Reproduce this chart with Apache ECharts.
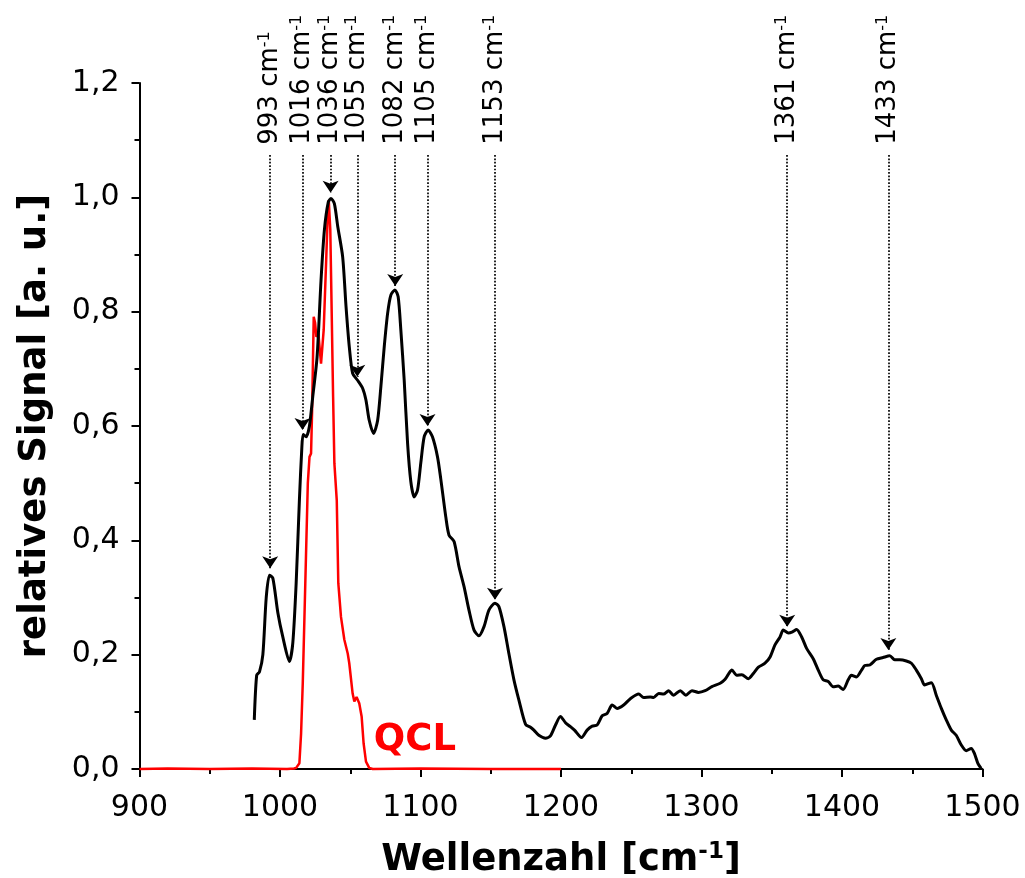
<!DOCTYPE html>
<html>
<head>
<meta charset="utf-8">
<script src="https://cdn.jsdelivr.net/npm/echarts@6/dist/echarts.min.js"></script>
<style>
  html, body { margin: 0; padding: 0; background: #fff; }
  #chart { width: 1025px; height: 878px; }
</style>
</head>
<body>
<div id="chart"></div>
<script>
// Sample spectrum (black): wavenumber [cm^-1] and relative signal
const sampleWn = [
  981.7, 983.4, 985.4, 987.8, 990.2, 992.5, 994.9, 998.5, 1002, 1006.7,
  1009.1, 1011.5, 1013.8, 1015.5, 1016.5, 1018.6, 1020.9, 1023.3, 1026.4, 1029.2,
  1031.6, 1034.4, 1036.3, 1038.7, 1041.1, 1044.6, 1047, 1049.3, 1051.7, 1055.2,
  1058.8, 1061.2, 1063.5, 1066.6, 1069.5, 1071.8, 1074.2, 1076.6, 1078.9, 1081.8,
  1084.1, 1086, 1088.4, 1090.8, 1093.1, 1095.5, 1097.9, 1100.2, 1102.6, 1105.4,
  1108.5, 1112.1, 1114.4, 1118, 1120.3, 1123.9, 1127.4, 1131, 1134.5, 1138.1,
  1141.6, 1145.2, 1148.7, 1153, 1155.8, 1159.4, 1162.9, 1166.5, 1170, 1174.8,
  1178.3, 1180.7, 1184.2, 1189, 1192.5, 1196.1, 1199.6, 1203.2, 1206.7, 1209.6,
  1214.6, 1218.6, 1222.2, 1225.7, 1229.3, 1232.8, 1236.4, 1239.9, 1244.6, 1249.4,
  1255.3, 1258.8, 1263.6, 1265.9, 1269.5, 1273, 1276.6, 1280.1, 1284.9, 1288.9,
  1293.2, 1297.8, 1302.6, 1307.4, 1313.3, 1316.8, 1319.2, 1321.6, 1325.1, 1328.7,
  1333.4, 1336.9, 1340.5, 1345.2, 1348.8, 1352.3, 1355.9, 1358.2, 1361.8, 1364.8,
  1367.7, 1371.3, 1374.8, 1379.5, 1383.1, 1386.6, 1390.2, 1393.7, 1397.3, 1400.8,
  1404.4, 1406.7, 1410.3, 1413.9, 1416.2, 1419.8, 1424.5, 1429.2, 1434, 1437.5,
  1441.1, 1445.8, 1449.4, 1452.9, 1456.5, 1458.8, 1463.6, 1467.1, 1470.7, 1474.2,
  1477.8, 1481.3, 1484.9, 1488.4, 1492, 1494.3, 1496.7, 1499
];
const sampleSignal = [
  0.086, 0.164, 0.170, 0.200, 0.300, 0.339, 0.334, 0.273, 0.231, 0.188,
  0.220, 0.325, 0.470, 0.560, 0.585, 0.581, 0.599, 0.651, 0.721, 0.855,
  0.943, 0.992, 0.998, 0.989, 0.949, 0.896, 0.809, 0.739, 0.692, 0.680,
  0.666, 0.645, 0.610, 0.587, 0.610, 0.669, 0.739, 0.797, 0.829, 0.838,
  0.826, 0.768, 0.680, 0.570, 0.503, 0.476, 0.488, 0.535, 0.581, 0.593,
  0.581, 0.546, 0.508, 0.441, 0.409, 0.398, 0.354, 0.319, 0.278, 0.243,
  0.233, 0.249, 0.278, 0.290, 0.284, 0.249, 0.202, 0.156, 0.121, 0.078,
  0.073, 0.068, 0.059, 0.054, 0.058, 0.077, 0.092, 0.081, 0.074, 0.068,
  0.055, 0.068, 0.075, 0.077, 0.093, 0.097, 0.112, 0.106, 0.112, 0.123,
  0.131, 0.125, 0.126, 0.125, 0.132, 0.131, 0.137, 0.129, 0.137, 0.129,
  0.137, 0.134, 0.137, 0.144, 0.150, 0.157, 0.166, 0.173, 0.164, 0.165,
  0.158, 0.167, 0.178, 0.185, 0.196, 0.217, 0.231, 0.243, 0.238, 0.240,
  0.244, 0.231, 0.211, 0.193, 0.173, 0.156, 0.153, 0.144, 0.145, 0.139,
  0.156, 0.164, 0.161, 0.173, 0.181, 0.182, 0.192, 0.195, 0.198, 0.191,
  0.191, 0.189, 0.185, 0.173, 0.158, 0.147, 0.151, 0.129, 0.106, 0.086,
  0.068, 0.059, 0.042, 0.032, 0.036, 0.027, 0.010, 0.001
];

// Quantum cascade laser emission profile (red)
const qclWn = [
  900, 920, 950, 980, 1005, 1010, 1011.5, 1013.8, 1015, 1016.2,
  1017.4, 1018.6, 1019.8, 1021, 1022.1, 1022.8, 1024, 1025, 1025.9, 1027.3,
  1029.2, 1031.1, 1032.8, 1034, 1034.7, 1035.8, 1036.8, 1037.8, 1038.7,
  1040.4, 1041.5, 1043.4, 1045.8, 1048.2, 1049.3, 1051.7, 1052.9, 1054.5, 1056.4,
  1058.1, 1059.5, 1061.2, 1063.5, 1066, 1100, 1150, 1200
];
const qclSignal = [
  0, 0.001, 0, 0.001, 0, 0.001, 0.002, 0.010, 0.062, 0.150,
  0.266, 0.383, 0.500, 0.546, 0.552, 0.622, 0.791, 0.780, 0.756, 0.762,
  0.709, 0.768, 0.885, 0.972, 0.995, 0.943, 0.797, 0.651, 0.535,
  0.470, 0.325, 0.266, 0.226, 0.202, 0.185, 0.132, 0.118, 0.126, 0.115,
  0.092, 0.045, 0.013, 0.002, 0, 0.001, 0, 0
];

// Assigned band positions and where each marker arrow ends
const peakWn = [993, 1016, 1036, 1055, 1082, 1105, 1153, 1361, 1433];
const peakArrowTip = [0.351, 0.593, 1.008, 0.686, 0.845, 0.600, 0.296, 0.249, 0.208];
const markerTop = 1.074;
const markerLabelBase = 1.092;

const FONT = 'DejaVu Sans';
const zip = (xs, ys) => xs.map((x, i) => [x, ys[i]]);

const chart = echarts.init(document.getElementById('chart'), null, { renderer: 'canvas' });

const axisCommon = {
  axisLine: { show: true, onZero: false, lineStyle: { color: '#000', width: 2 } },
  axisTick: { show: true, length: 8, lineStyle: { color: '#000', width: 2 } },
  minorTick: { show: true, splitNumber: 2, length: 5, lineStyle: { color: '#000', width: 2 } },
  splitLine: { show: false },
  minorSplitLine: { show: false }
};

chart.setOption({
  animation: false,
  backgroundColor: '#fff',
  grid: {
    left: 139.5, right: 42.5, top: 83, bottom: 109,
    containLabel: false,
    outerBoundsMode: 'none'
  },
  xAxis: Object.assign({
    type: 'value',
    min: 900, max: 1500, interval: 100,
    name: 'Wellenzahl [cm{sup|-1}]',
    nameLocation: 'middle',
    nameGap: 72,
    nameTextStyle: {
      fontFamily: FONT, fontSize: 37, fontWeight: 'bold', color: '#000',
      rich: { sup: { fontFamily: FONT, fontSize: 23, fontWeight: 'bold', color: '#000', verticalAlign: 'top', padding: [0, 0, 16, 0] } }
    },
    axisLabel: {
      fontFamily: FONT, fontSize: 30, color: '#000', margin: 24,
      formatter: v => String(v)
    }
  }, axisCommon),
  yAxis: Object.assign({
    type: 'value',
    min: 0, max: 1.2, interval: 0.2,
    name: 'relatives Signal [a. u.]',
    nameLocation: 'middle',
    nameGap: 86,
    nameTextStyle: { fontFamily: FONT, fontSize: 37, fontWeight: 'bold', color: '#000' },
    axisLabel: {
      fontFamily: FONT, fontSize: 30, color: '#000', margin: 20,
      formatter: v => v.toFixed(1).replace('.', ',')
    }
  }, axisCommon),
  series: [
    {
      name: 'QCL',
      type: 'line',
      data: zip(qclWn, qclSignal),
      showSymbol: false,
      clip: false,
      z: 3,
      lineStyle: { color: '#ff0000', width: 2.5 },
      markPoint: {
        silent: true,
        symbol: 'circle', symbolSize: 0,
        data: [{ coord: [1096, 0.05] }],
        label: {
          show: true, formatter: 'QCL', position: 'inside',
          fontFamily: FONT, fontSize: 37, fontWeight: 'bold', color: '#ff0000'
        }
      }
    },
    {
      name: 'Probe',
      type: 'line',
      data: zip(sampleWn, sampleSignal),
      showSymbol: false,
      smooth: 0.25,
      z: 4,
      lineStyle: { color: '#000', width: 3 },
      markLine: {
        silent: true,
        symbol: ['none', 'arrow'],
        symbolSize: 12,
        label: { show: false },
        lineStyle: { type: 'dotted', color: '#000', width: 1.7 },
        data: peakWn.map((w, i) => [
          { coord: [w, markerTop] },
          { coord: [w, peakArrowTip[i]] }
        ])
      }
    },
    {
      name: 'Banden',
      type: 'scatter',
      data: peakWn.map(w => [w, markerLabelBase]),
      symbolSize: 0,
      itemStyle: { color: '#000', opacity: 1 },
      silent: true,
      z: 5,
      label: {
        show: true,
        opacity: 1,
        position: [0, 0],
        rotate: 90,
        align: 'left',
        verticalAlign: 'middle',
        fontFamily: FONT, fontSize: 26, color: '#000',
        formatter: p => p.value[0] + ' cm{sup|-1}',
        rich: { sup: { fontFamily: FONT, fontSize: 16, color: '#000', verticalAlign: 'top', padding: [0, 0, 11, 0] } }
      }
    }
  ]
});
</script>
</body>
</html>
